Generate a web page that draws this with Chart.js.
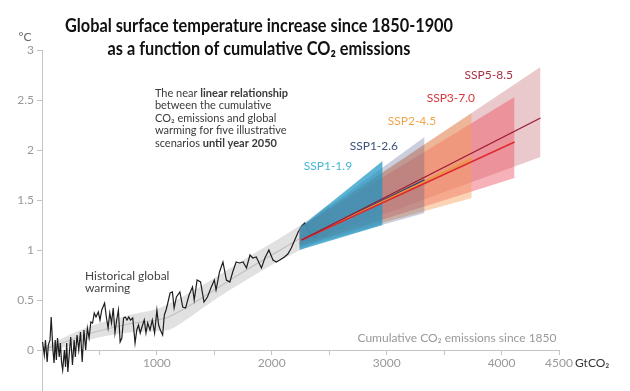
<!DOCTYPE html>
<html>
<head>
<meta charset="utf-8">
<title>Global surface temperature increase vs cumulative CO2 emissions</title>
<script src="https://cdn.jsdelivr.net/npm/chart.js@4.4.1/dist/chart.umd.min.js"></script>
<style>
  html, body { margin: 0; padding: 0; background: #fff; }
  #wrap { width: 630px; height: 391px; }
</style>
</head>
<body>
<div id="wrap"><canvas id="chart" width="630" height="391"></canvas></div>
<script>
// historical warming (black line): cumulative GtCO2 -> degC
const histX = [5, 20, 30, 45, 55, 70, 80, 95, 105, 115, 125, 135, 150, 160, 170, 180, 195, 205, 215, 225,
  240, 250, 265, 280, 290, 305, 320, 335, 350, 365, 380, 395, 410, 425, 440, 455, 470, 490, 505, 520,
  545, 560, 575, 590, 605, 620, 635, 650, 665, 680, 695, 710, 725, 740, 755, 770, 790, 810, 825, 840,
  855, 870, 890, 905, 920, 940, 960, 980, 1000, 1015, 1030, 1050, 1065, 1080, 1095, 1115, 1135, 1150, 1170, 1200,
  1225, 1250, 1280, 1310, 1325, 1350, 1380, 1410, 1440, 1470, 1500, 1515, 1545, 1575, 1605, 1635, 1660, 1690, 1720, 1750,
  1780, 1810, 1835, 1865, 1910, 1940, 1975, 2010, 2040, 2070, 2110, 2140, 2170, 2200, 2230, 2260, 2287, 2330, 2374, 2417];
const histY = [0.08, -0.05, 0.1, -0.12, 0.05, 0.1, 0.33, 0.0, -0.13, 0.1, -0.1, 0.12, -0.07, 0.07, -0.12, -0.2, 0.0, -0.17, 0.07, -0.22,
  0.0, 0.13, -0.15, 0.1, -0.07, 0.15, 0.0, 0.18, -0.12, 0.2, 0.0, 0.22, 0.12, 0.28, 0.27, 0.37, 0.33, 0.38, 0.3, 0.4,
  0.47, 0.33, 0.22, 0.37, 0.27, 0.42, 0.17, 0.3, 0.4, 0.08, 0.12, 0.32, 0.33, 0.3, 0.33, 0.3, 0.32, 0.07, 0.2, 0.25,
  0.17, 0.23, 0.3, 0.17, 0.27, 0.2, 0.3, 0.17, 0.4, 0.25, 0.2, 0.15, 0.35, 0.4, 0.47, 0.57, 0.58, 0.42, 0.53, 0.58,
  0.43, 0.42, 0.55, 0.63, 0.5, 0.7, 0.68, 0.48, 0.53, 0.62, 0.7, 0.6, 0.78, 0.88, 0.7, 0.68, 0.78, 0.88, 0.87, 0.88,
  0.82, 0.95, 0.92, 0.93, 0.82, 0.92, 1.0, 0.9, 0.88, 0.9, 0.93, 0.96, 1.02, 1.1, 1.18, 1.24, 1.27, 1.18, 1.12, 1.2];

// smoothed historical estimate and its grey uncertainty band
const bandX = [0, 200, 400, 600, 800, 1000, 1100, 1250, 1500, 1750, 2000, 2250, 2500];
const bandMid = [0.0, 0.08, 0.16, 0.22, 0.27, 0.3, 0.33, 0.42, 0.6, 0.78, 0.95, 1.12, 1.3];
const bandLow = [-0.02, 0.03, 0.1, 0.15, 0.18, 0.19, 0.2, 0.3, 0.5, 0.68, 0.85, 1.0, 1.14];
const bandHigh = [0.02, 0.13, 0.23, 0.3, 0.36, 0.41, 0.46, 0.55, 0.72, 0.9, 1.07, 1.25, 1.46];

// scenarios until year 2050
const scenarios = ["SSP1-1.9", "SSP1-2.6", "SSP2-4.5", "SSP3-7.0", "SSP5-8.5"];
const fanStartX = 2240;
const fanStartLow = [1.0, 1.02, 1.04, 1.04, 1.05];
const fanStartHigh = [1.22, 1.22, 1.22, 1.22, 1.22];
const fanEndX = [2965, 3330, 3740, 4113, 4339];
const fanEndLow = [1.25, 1.37, 1.52, 1.72, 1.93];
const fanEndHigh = [1.89, 2.13, 2.37, 2.53, 2.83];
const medianStartX = 2260;
const medianStartY = 1.1;
const medianEndY = [1.52, 1.7, 1.91, 2.08, 2.32];

// where the scenario names sit (data coords, left edge / middle)
const labelX = [2278, 2678, 3009, 3348, 3678];
const labelY = [1.84, 2.04, 2.29, 2.52, 2.75];

const yTicks = [0, 0.5, 1, 1.5, 2, 2.5, 3];
const xTicks = [500, 1000, 1500, 2000, 2500, 3000, 3500, 4000, 4500];
const xTickLabels = [1000, 2000, 3000, 4000, 4500];

const titleLines = ["Global surface temperature increase since 1850-1900", "as a function of cumulative CO\u2082 emissions"];
const noteLines = [
  [["The near ", false], ["linear relationship", true]],
  [["between the cumulative", false]],
  [["CO\u2082 emissions and global", false]],
  [["warming for five illustrative", false]],
  [["scenarios ", false], ["until year 2050", true]]
];

const fanColors = ["rgba(30,150,195,0.72)", "rgba(70,80,130,0.28)", "rgba(245,160,90,0.45)", "rgba(235,70,85,0.42)", "rgba(190,90,100,0.33)"];
const lineColors = ["#2a9cc4", "#2e3f6e", "#e8963c", "#e0282e", "#9e1b32"];
const textColors = ["#45b8d8", "#3d4f7c", "#f0a54c", "#d8383c", "#a83040"];

const pts = (xs, ys) => xs.map((x, i) => ({ x: x, y: ys[i] }));

const datasets = [];

// medians, drawn on top
scenarios.forEach((name, i) => {
  datasets.push({
    label: name + " median",
    data: [{ x: medianStartX, y: medianStartY }, { x: fanEndX[i], y: medianEndY[i] }],
    borderColor: lineColors[i],
    borderWidth: 1.4,
    pointRadius: 0,
    fill: false,
    order: 5 - i,
  });
});

// fans: upper edge filled down to the lower edge right after it
scenarios.forEach((name, i) => {
  datasets.push({
    label: name + " high",
    data: [{ x: fanStartX, y: fanStartHigh[i] }, { x: fanEndX[i], y: fanEndHigh[i] }],
    borderWidth: 0,
    pointRadius: 0,
    backgroundColor: fanColors[i],
    fill: "+1",
    order: 20 + i * 2,
  });
  datasets.push({
    label: name + " low",
    data: [{ x: fanStartX, y: fanStartLow[i] }, { x: fanEndX[i], y: fanEndLow[i] }],
    borderWidth: 0,
    pointRadius: 0,
    fill: false,
    order: 21 + i * 2,
  });
});

datasets.push({
  label: "Historical",
  data: pts(histX, histY),
  borderColor: "#1e1e1e",
  borderWidth: 1.2,
  pointRadius: 0,
  fill: false,
  order: 40,
});
datasets.push({
  label: "Band mid",
  data: pts(bandX, bandMid),
  borderColor: "#c2c2c2",
  borderWidth: 1.2,
  pointRadius: 0,
  cubicInterpolationMode: "monotone",
  fill: false,
  order: 45,
});
datasets.push({
  label: "Band high",
  data: pts(bandX, bandHigh),
  borderWidth: 0,
  pointRadius: 0,
  cubicInterpolationMode: "monotone",
  backgroundColor: "rgba(200,200,200,0.55)",
  fill: "+1",
  order: 50,
});
datasets.push({
  label: "Band low",
  data: pts(bandX, bandLow),
  borderWidth: 0,
  pointRadius: 0,
  cubicInterpolationMode: "monotone",
  fill: false,
  order: 51,
});

const FONT = "Lato, 'Open Sans', sans-serif";

const textPlugin = {
  id: "texts",
  afterDraw(chart) {
    const ctx = chart.ctx;
    const xs = chart.scales.x;
    const ys = chart.scales.y;
    const px = (v) => xs.getPixelForValue(v);
    const py = (v) => ys.getPixelForValue(v);
    ctx.save();

    // title, squeezed a bit to match the original face
    ctx.fillStyle = "#111";
    ctx.textBaseline = "alphabetic";
    ctx.textAlign = "center";
    ctx.font = "bold 18px " + FONT;
    const sx = 388 / ctx.measureText(titleLines[0]).width;
    [32, 55].forEach((y, i) => {
      ctx.save();
      ctx.translate(259, y);
      ctx.scale(sx, 1);
      ctx.fillText(titleLines[i], 0, 0);
      ctx.restore();
    });

    ctx.textBaseline = "middle";

    // unit labels
    ctx.textAlign = "center";
    ctx.fillStyle = "#666";
    ctx.font = "12px " + FONT;
    ctx.fillText("\u00b0C", 25, py(3) - 13);
    ctx.textAlign = "left";
    ctx.fillStyle = "#333";
    ctx.fillText("GtCO\u2082", px(4500) + 16, py(0) + 13);

    ctx.textAlign = "right";
    ctx.fillStyle = "#999";
    ctx.fillText("Cumulative CO\u2082 emissions since 1850", px(4478), py(0.12));

    // historical note
    ctx.textAlign = "left";
    ctx.fillStyle = "#444";
    ctx.fillText("Historical global", px(374), py(0.74));
    ctx.fillText("warming", px(374), py(0.74) + 12.5);

    // linear relationship note
    ctx.fillStyle = "#3a3a3a";
    noteLines.forEach((parts, i) => {
      let x = px(983);
      const y = py(2.57) + i * 12.5;
      parts.forEach(([txt, bold]) => {
        ctx.font = (bold ? "bold " : "") + "11px " + FONT;
        ctx.fillText(txt, x, y);
        x += ctx.measureText(txt).width;
      });
    });

    // scenario names
    ctx.font = "12px " + FONT;
    scenarios.forEach((name, i) => {
      ctx.fillStyle = textColors[i];
      ctx.fillText(name, px(labelX[i]), py(labelY[i]));
    });

    ctx.restore();
  },
};

new Chart(document.getElementById("chart"), {
  type: "line",
  data: { datasets: datasets },
  plugins: [textPlugin],
  options: {
    responsive: false,
    animation: false,
    layout: { padding: { top: 50, right: 71, bottom: 0, left: 0 } },
    plugins: {
      legend: { display: false },
      tooltip: { enabled: false },
      title: { display: false },
    },
    scales: {
      x: {
        type: "linear",
        min: 0,
        max: 4500,
        position: { y: 0 },
        afterBuildTicks: (s) => { s.ticks = xTicks.map((v) => ({ value: v })); },
        ticks: {
          callback: (v) => (xTickLabels.includes(v) ? String(v) : ""),
          color: "#999",
          font: { family: FONT, size: 12 },
          padding: 2,
          maxRotation: 0,
          autoSkip: false,
        },
        grid: { drawOnChartArea: false, drawTicks: true, tickLength: 4, color: "#c4c4c4" },
        border: { color: "#c4c4c4", width: 1 },
      },
      y: {
        type: "linear",
        min: -0.41,
        max: 3,
        afterBuildTicks: (s) => { s.ticks = yTicks.map((v) => ({ value: v })); },
        afterFit: (s) => {
          s.width = 42;
          s.paddingTop = 0;
          s.paddingBottom = 0;
        },
        ticks: {
          callback: (v) => String(v),
          color: "#999",
          font: { family: FONT, size: 12 },
          padding: 3,
        },
        grid: { drawOnChartArea: false, drawTicks: true, tickLength: 5, color: "#c4c4c4" },
        border: { color: "#c4c4c4", width: 1 },
      },
    },
  },
});
</script>
</body>
</html>
